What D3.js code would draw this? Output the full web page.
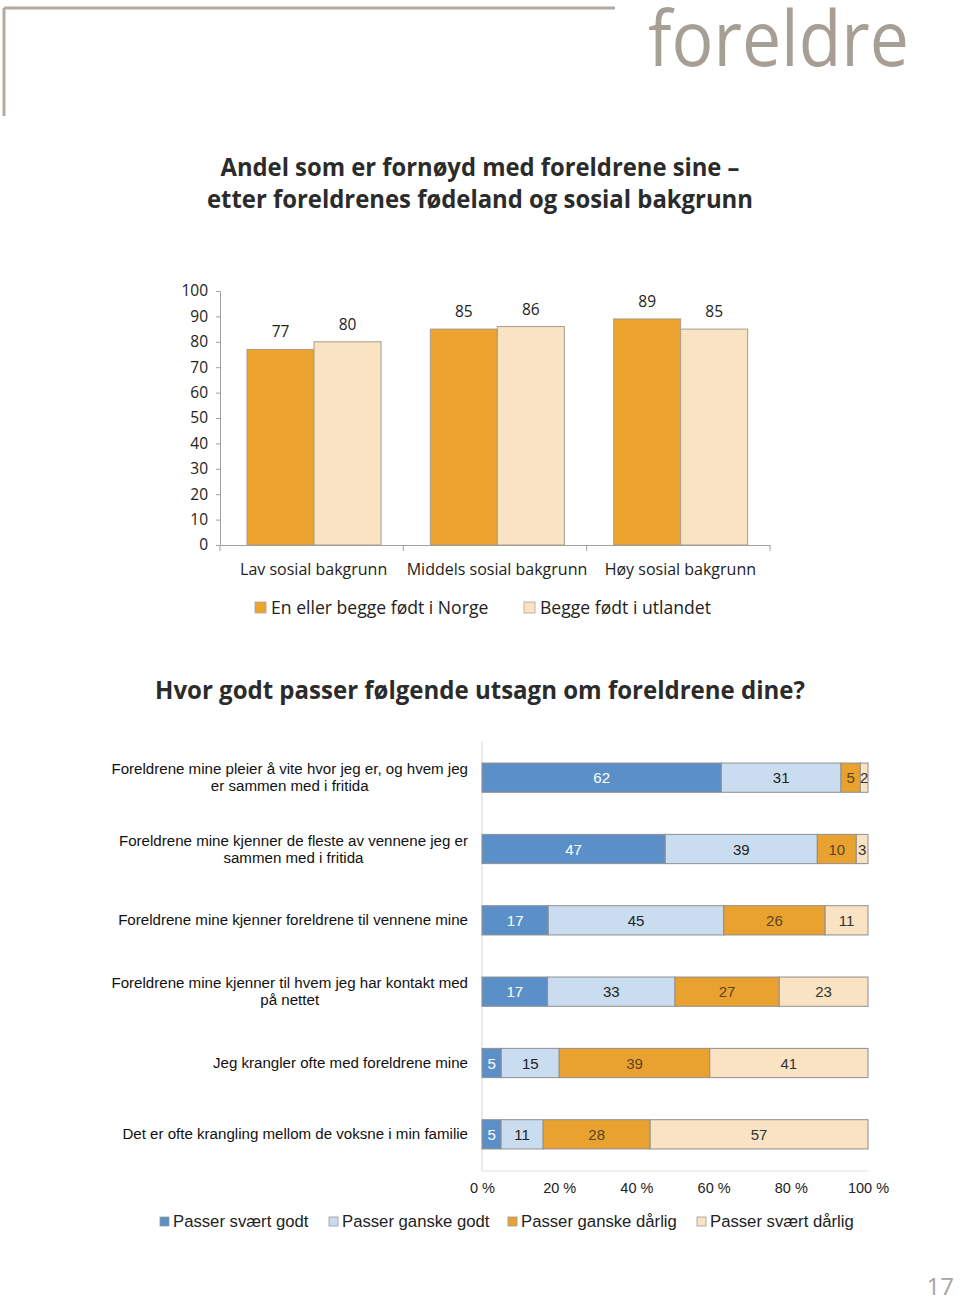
<!DOCTYPE html>
<html><head><meta charset="utf-8">
<script src="https://cdn.jsdelivr.net/npm/d3@7"></script>
<style>body{margin:0;background:#fff}svg{display:block}</style>
</head><body>
<script>
// ---- Data: bar chart ----
const barCategories = ["Lav sosial bakgrunn", "Middels sosial bakgrunn", "Høy sosial bakgrunn"];
const barSeries = ["En eller begge født i Norge", "Begge født i utlandet"];
const norgeValues = [77, 85, 89];
const utlandetValues = [80, 86, 85];
const barTicks = [0, 10, 20, 30, 40, 50, 60, 70, 80, 90, 100];

// ---- Data: stacked chart ----
const statements = [
  ["Foreldrene mine pleier å vite hvor jeg er, og hvem jeg", "er sammen med i fritida"],
  ["Foreldrene mine kjenner de fleste av vennene jeg er", "sammen med i fritida"],
  ["Foreldrene mine kjenner foreldrene til vennene mine"],
  ["Foreldrene mine kjenner til hvem jeg har kontakt med", "på nettet"],
  ["Jeg krangler ofte med foreldrene mine"],
  ["Det er ofte krangling mellom de voksne i min familie"]
];
const stackSeries = ["Passer svært godt", "Passer ganske godt", "Passer ganske dårlig", "Passer svært dårlig"];
const sværtGodt =   [62, 47, 17, 17, 5, 5];
const ganskeGodt =  [31, 39, 45, 33, 15, 11];
const ganskeDårlig = [5, 10, 26, 27, 39, 28];
const sværtDårlig = [2, 3, 11, 23, 41, 57];
const pctTicks = [0, 0.2, 0.4, 0.6, 0.8, 1.0];

const W = 960, H = 1302;
const svg = d3.select("body").append("svg").attr("width", W).attr("height", H);

// ---- page decoration ----
svg.append("line").attr("x1", 4).attr("x2", 615).attr("y1", 8).attr("y2", 8)
  .attr("stroke", "#b3aaa1").attr("stroke-width", 3);
svg.append("line").attr("x1", 4).attr("x2", 4).attr("y1", 8).attr("y2", 116)
  .attr("stroke", "#b3aaa1").attr("stroke-width", 3);
svg.append("text").attr("x", 648).attr("y", 66).text("foreldre")
  .attr("font-family", "Open Sans").attr("font-size", 76).attr("fill", "#a79e95")
  .attr("textLength", 261).attr("lengthAdjust", "spacingAndGlyphs");
svg.append("text").attr("x", 954).attr("y", 1295).attr("text-anchor", "end").text("17")
  .attr("font-family", "Open Sans").attr("font-size", 24).attr("fill", "#aaa39b");

// ---- titles ----
function title(str, y, len) {
  svg.append("text").attr("x", 480).attr("y", y).attr("text-anchor", "middle").text(str)
    .attr("font-family", "Open Sans").attr("font-weight", 700).attr("font-size", 25)
    .attr("fill", "#2b2b2b").attr("textLength", len).attr("lengthAdjust", "spacingAndGlyphs");
}
title("Andel som er fornøyd med foreldrene sine –", 176, 519);
title("etter foreldrenes fødeland og sosial bakgrunn", 208, 546);
title("Hvor godt passer følgende utsagn om foreldrene dine?", 699, 650);

// ---- Bar chart ----
const orange = "#eca42e", cream = "#fae3c2";
const y = d3.scaleLinear().domain([0, 100]).range([545, 291]);
const x0 = d3.scaleBand().domain(barCategories).range([220, 770]);
const x1 = d3.scaleBand().domain(barSeries).range([27, 161]);
const barFont = "Open Sans";

const yAxis = d3.axisLeft(y).tickValues(barTicks).tickSize(4).tickPadding(8);
const gy = svg.append("g").attr("transform", "translate(220,0)").call(yAxis);
gy.select(".domain").attr("stroke", "#a0a0a0");
gy.selectAll(".tick line").attr("stroke", "#a0a0a0");
gy.selectAll(".tick text").attr("font-family", barFont).attr("font-size", 15.5).attr("fill", "#222");

const xAxis = d3.axisBottom(x0).tickSize(0).tickSizeOuter(0);
const gx = svg.append("g").attr("transform", "translate(0,545)").call(xAxis);
gx.select(".domain").attr("stroke", "#a0a0a0");
gx.selectAll(".tick text").attr("font-family", barFont).attr("font-size", 16).attr("fill", "#222")
  .attr("dy", "1.68em").attr("dx", 2);
// category separator ticks
const sepPos = barCategories.map(c => x0(c)).concat([x0.range()[1]]);
svg.append("g").selectAll("line").data(sepPos).join("line")
  .attr("x1", d => d).attr("x2", d => d).attr("y1", 545).attr("y2", 551)
  .attr("stroke", "#a0a0a0");

const barData = barCategories.map((c, i) => ({ cat: c, vals: [
  { s: barSeries[0], v: norgeValues[i] }, { s: barSeries[1], v: utlandetValues[i] }] }));
const barColor = d3.scaleOrdinal().domain(barSeries).range([orange, cream]);
const grp = svg.append("g").selectAll("g").data(barData).join("g")
  .attr("transform", d => `translate(${x0(d.cat)},0)`);
grp.selectAll("rect").data(d => d.vals).join("rect")
  .attr("x", d => x1(d.s)).attr("width", x1.bandwidth())
  .attr("y", d => y(d.v)).attr("height", d => y(0) - y(d.v))
  .attr("fill", d => barColor(d.s)).attr("stroke", "#a89c8e").attr("stroke-width", 1);
grp.selectAll("text").data(d => d.vals).join("text")
  .attr("x", d => x1(d.s) + x1.bandwidth() / 2).attr("y", d => y(d.v) - 12)
  .attr("text-anchor", "middle").text(d => d.v)
  .attr("font-family", barFont).attr("font-size", 15.5).attr("fill", "#222");

// legend bar chart
const leg1 = [{ s: barSeries[0], x: 255 }, { s: barSeries[1], x: 524 }];
const lg1 = svg.append("g").selectAll("g").data(leg1).join("g");
lg1.append("rect").attr("x", d => d.x).attr("y", 602).attr("width", 11).attr("height", 11)
  .attr("fill", d => barColor(d.s)).attr("stroke", "#b0a494").attr("stroke-width", 0.8);
lg1.append("text").attr("x", d => d.x + 16).attr("y", 614).text(d => d.s)
  .attr("font-family", barFont).attr("font-size", 17.6).attr("fill", "#222");

// ---- Stacked chart ----
const stackColors = ["#5b8fc8", "#cadcef", "#e9a22f", "#fae3c2"];
const labelColors = ["#ffffff", "#222222", "#5b4520", "#333333"];
const rowsIdx = d3.range(statements.length);
const xs = d3.scaleLinear().domain([0, 1]).range([482, 868]);
const ys = d3.scaleBand().domain(rowsIdx).range([742, 1170]).paddingInner(0.59).paddingOuter(0.295);
const arial = "Liberation Sans, Arial, sans-serif";

// axis lines
svg.append("line").attr("x1", 482).attr("x2", 482).attr("y1", 742).attr("y2", 1171)
  .attr("stroke", "#d6d6d6");
svg.append("line").attr("x1", 482).attr("x2", 868).attr("y1", 1171).attr("y2", 1171)
  .attr("stroke", "#e0e0e0");
const pAxis = d3.axisBottom(xs).tickValues(pctTicks).tickSize(0).tickPadding(12)
  .tickFormat(d => Math.round(d * 100) + " %");
const gp = svg.append("g").attr("transform", "translate(0,1171)").call(pAxis);
gp.select(".domain").remove();
gp.selectAll(".tick text").attr("font-family", arial).attr("font-size", 14.5).attr("fill", "#222");

const cols = [sværtGodt, ganskeGodt, ganskeDårlig, sværtDårlig];
const stackRows = rowsIdx.map(i => {
  const vals = cols.map(c => c[i]);
  const tot = d3.sum(vals);
  let acc = 0;
  return vals.map((v, k) => { const s = { row: i, k, v, x0: acc / tot, x1: (acc + v) / tot }; acc += v; return s; });
});
const rowG = svg.append("g").selectAll("g").data(stackRows).join("g");
rowG.selectAll("rect").data(d => d).join("rect")
  .attr("x", d => xs(d.x0)).attr("width", d => xs(d.x1) - xs(d.x0))
  .attr("y", d => ys(d.row)).attr("height", ys.bandwidth())
  .attr("fill", d => stackColors[d.k]).attr("stroke", "#8f8f8f").attr("stroke-width", 1);
rowG.selectAll("text").data(d => d).join("text")
  .attr("x", d => (xs(d.x0) + xs(d.x1)) / 2).attr("y", d => ys(d.row) + ys.bandwidth() / 2 + 5.5)
  .attr("text-anchor", "middle").text(d => d.v)
  .attr("font-family", arial).attr("font-size", 15).attr("fill", d => labelColors[d.k]);

// category labels
statements.forEach((lines, i) => {
  const cy = ys(i) + ys.bandwidth() / 2;
  const g = svg.append("g");
  const ts = lines.map((ln, j) => g.append("text").text(ln)
    .attr("font-family", arial).attr("font-size", 15.1).attr("fill", "#111")
    .attr("y", cy + 5 + (j - (lines.length - 1) / 2) * 17));
  const maxW = d3.max(ts, t => t.node().getComputedTextLength());
  ts.forEach(t => t.attr("text-anchor", "middle").attr("x", 468 - maxW / 2));
});

// bottom legend
const leg2 = stackSeries.map((s, k) => ({ s, k, x: [160, 329, 508, 697][k] }));
const lg2 = svg.append("g").selectAll("g").data(leg2).join("g");
lg2.append("rect").attr("x", d => d.x).attr("y", 1217).attr("width", 9).attr("height", 9)
  .attr("fill", d => stackColors[d.k]).attr("stroke", "#9a9a9a").attr("stroke-width", 0.8);
lg2.append("text").attr("x", d => d.x + 13).attr("y", 1227).text(d => d.s)
  .attr("font-family", arial).attr("font-size", 16.7).attr("fill", "#222");
</script>
</body></html>
